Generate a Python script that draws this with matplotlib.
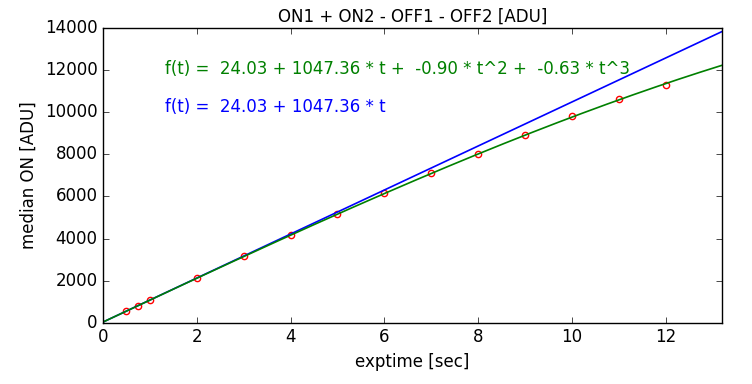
import matplotlib
matplotlib.use("Agg")
import matplotlib.pyplot as plt
import numpy as np

plt.style.use('classic')
plt.rcParams['figure.facecolor'] = 'white'
plt.rcParams['savefig.facecolor'] = 'white'

exptime = [0.5, 0.75, 1, 2, 3, 4, 5, 6, 7, 8, 9, 10, 11, 12]
median_on = [540, 810, 1060, 2110, 3150, 4170, 5170, 6160, 7120, 8040,
             8940, 9820, 10640, 11330]

# fit coefficients as printed on the chart (c0, c1, c2, c3)
cubic = [24.03, 1047.36, -0.90, -0.63]
linear = [24.03, 1047.36]

xmax = max(exptime) * 1.1
tt = np.linspace(0, xmax, 200)

fig = plt.figure(figsize=(7.52, 3.84), dpi=100)
ax = fig.add_axes([0.137, 0.160, 0.823, 0.766])

ax.plot(exptime, median_on, 'o', mfc='none', mec='red', ms=4.5, mew=1)
ax.plot(tt, np.polynomial.polynomial.polyval(tt, linear), color='blue', lw=1.2)
ax.plot(tt, np.polynomial.polynomial.polyval(tt, cubic), color='green', lw=1.2)

ax.text(1.32, 11820, "f(t) =  %.2f + %.2f * t +  %.2f * t^2 +  %.2f * t^3" % tuple(cubic),
        color='green', fontsize=12)
ax.text(1.32, 10000, "f(t) =  %.2f + %.2f * t" % tuple(linear),
        color='blue', fontsize=12)

ax.set_xlim(0, xmax)
ax.set_ylim(0, 14000)
ax.set_title("ON1 + ON2 - OFF1 - OFF2 [ADU]", fontsize=12)
ax.set_xlabel("exptime [sec]")
ax.set_ylabel("median ON [ADU]")

fig.savefig("out.png", dpi=100)
